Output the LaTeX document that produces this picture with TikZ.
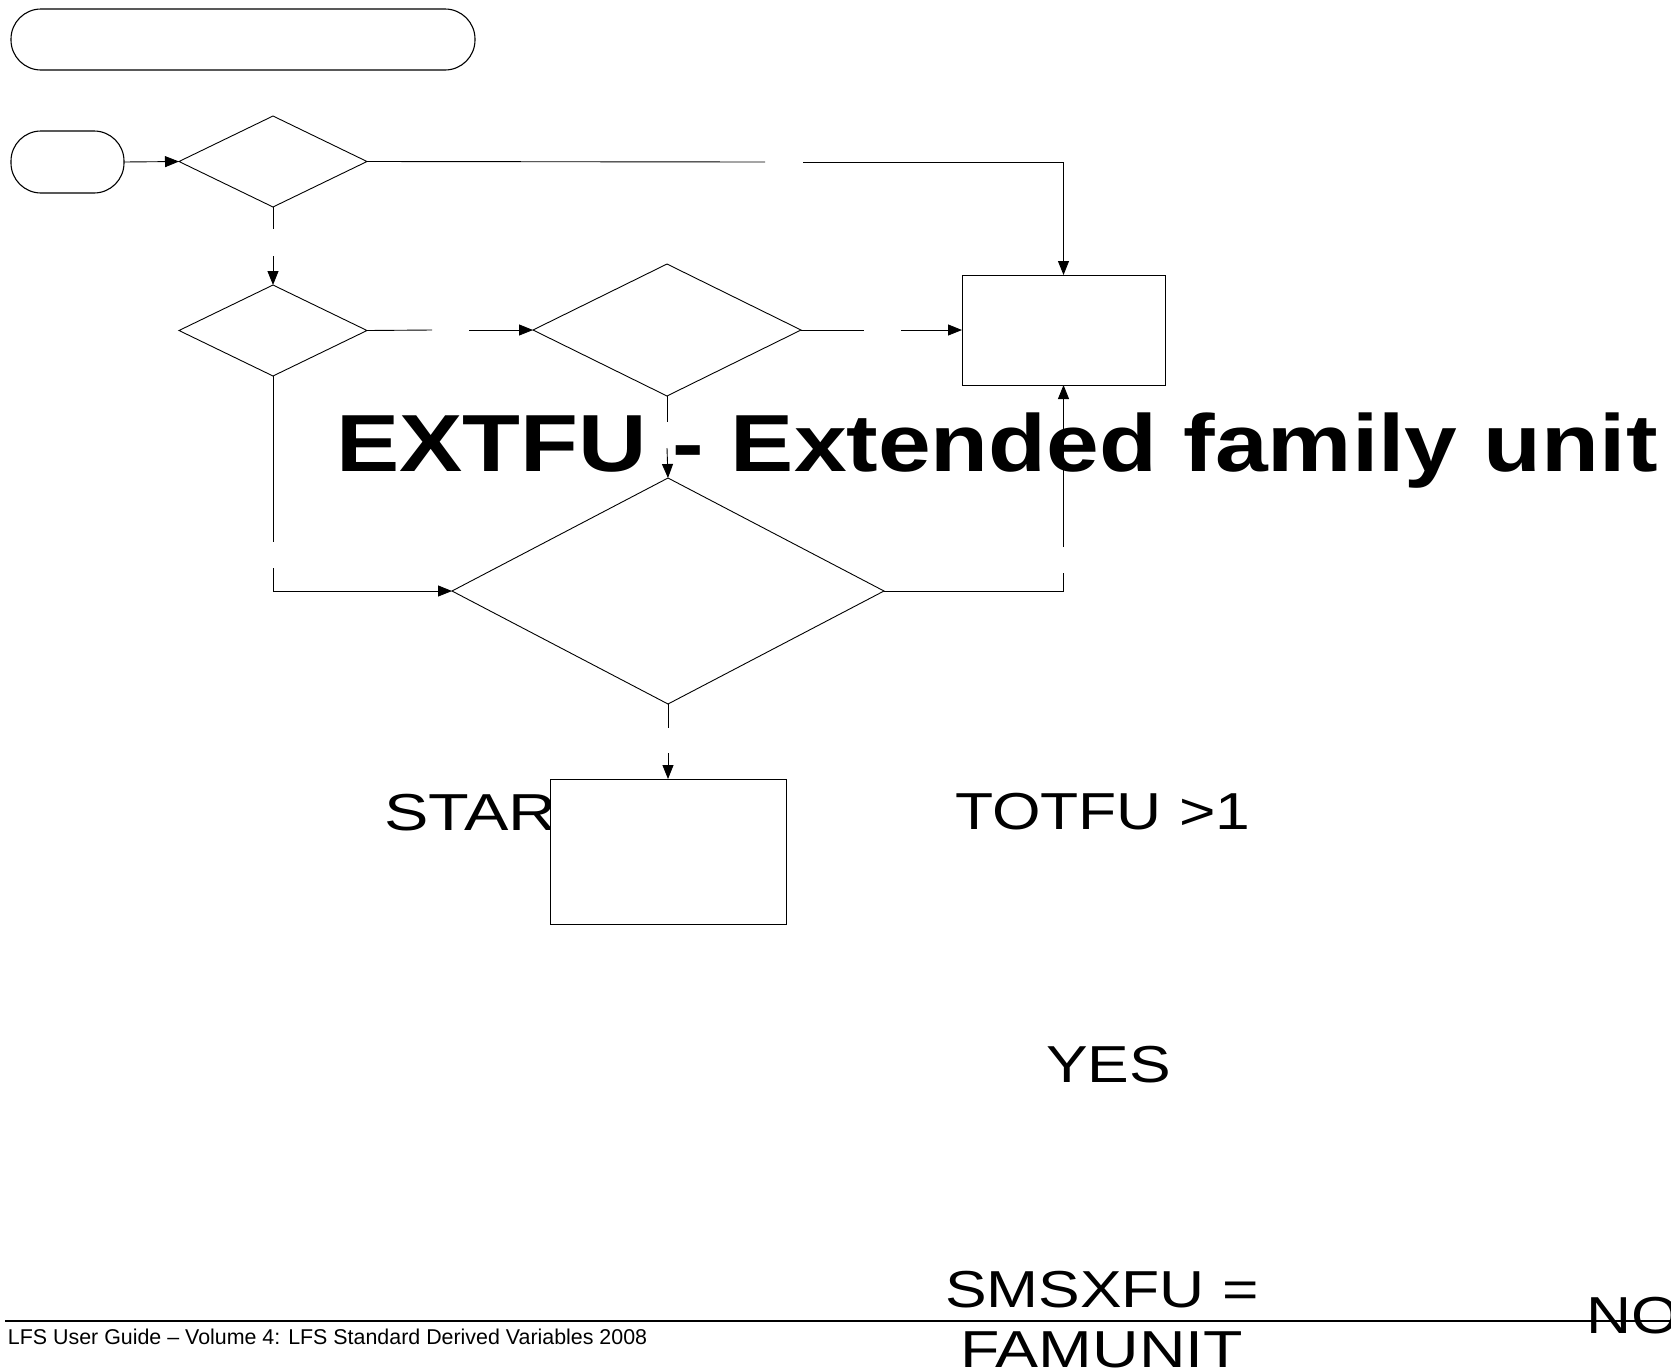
\documentclass[tikz,border=0pt]{standalone}
\usepackage{fontspec}
\setmainfont{Liberation Sans}
\usetikzlibrary{shapes.geometric,arrows.meta}
\newcommand{\xstretch}[2][1.17]{\scalebox{#1}[1]{#2}}
\begin{document}
\begin{tikzpicture}[x=1pt,y=-1pt,
  every node/.style={inner sep=0pt, outer sep=0pt},
  term/.style={draw, line width=1.1pt, rounded corners=30pt},
  dec/.style={diamond, draw, line width=0.9pt},
  proc/.style={rectangle, draw, line width=1pt, fill=white},
  conn/.style={line width=0.9pt},
  arr/.style={conn, -{Triangle[length=14pt,width=11pt]}},
  lbl/.style={anchor=base west, font=\fontsize{52}{52}\selectfont},
  foot/.style={anchor=base west, font=\fontsize{21.4}{21.4}\selectfont}
]
\useasboundingbox (0,0) rectangle (1671,1369);

% terminators
\node[term, minimum width=464pt, minimum height=61pt] (title) at (243,39.5) {};
\node[term, minimum width=113pt, minimum height=62pt] (start) at (67.5,162) {};

% decisions
\node[dec, minimum width=188pt, minimum height=91pt] (d1) at (273,161.5) {};
\node[dec, minimum width=188pt, minimum height=91pt] (d2) at (273,330.5) {};
\node[dec, minimum width=268pt, minimum height=132pt] (d4) at (667,330) {};
\node[dec, minimum width=432pt, minimum height=226pt] (d3) at (668,591) {};

% process box 1
\node[proc, minimum width=203pt, minimum height=110pt] (b1) at (1063.5,330) {};

% texts
\node[lbl] (txtstart) at (384,830) {\xstretch[1.28]{START}};
\node[lbl] (txttot) at (955,829) {\xstretch[1.2]{TOTFU >1}};
\node[lbl] (txtyes) at (1046,1082) {\xstretch[1.2]{YES}};
\node[lbl] (txtsms) at (945,1307) {\xstretch[1.2]{SMSXFU =}};
\node[lbl] (txtfam) at (960,1367) {\xstretch[1.24]{FAMUNIT}};
\node[lbl] (txtno) at (1586,1333) {\xstretch[1.2]{NO}};

% process box 2 (covers the end of START)
\node[proc, minimum width=236pt, minimum height=145pt] (b2) at (668,851.5) {};

% gap coordinates
\coordinate (g2a) at (765,162);  \coordinate (g2b) at (803,162);
\coordinate (g3a) at (273,229);  \coordinate (g3b) at (273,256);
\coordinate (g4a) at (432,330);  \coordinate (g4b) at (469,330);
\coordinate (g5a) at (864,330);  \coordinate (g5b) at (901,330);
\coordinate (g6a) at (273,542);  \coordinate (g6b) at (273,568);
\coordinate (g7a) at (667,422);  \coordinate (g7b) at (667,448);
\coordinate (g8a) at (1063.5,573); \coordinate (g8b) at (1063.5,547);
\coordinate (g9a) at (668,728);  \coordinate (g9b) at (668,753);

% connectors
\draw[arr] (start.east) -- (d1.west);
\draw[conn] (d1.east) -- (g2a);
\draw[arr] (g2b) -| (b1.north);
\draw[conn] (d1.south) -- (g3a);
\draw[arr] (g3b) -- (d2.north);
\draw[conn] (d2.east) -- (g4a);
\draw[arr] (g4b) -- (d4.west);
\draw[conn] (d4.east) -- (g5a);
\draw[arr] (g5b) -- (b1.west);
\draw[conn] (d2.south) -- (g6a);
\draw[arr] (g6b) |- (d3.west);
\draw[conn] (d4.south) -- (g7a);
\draw[arr] (g7b) -- (d3.north);
\draw[conn] (d3.east) -| (g8a);
\draw[arr] (g8b) -- (b1.south);
\draw[conn] (d3.south) -- (g9a);
\draw[arr] (g9b) -- (b2.north);

% heading
\node[anchor=base west, font=\fontsize{81}{81}\selectfont\bfseries] (heading) at (336,471) {\xstretch{EXTFU - Extended family unit}};

% footer
\coordinate (ruleL) at (5,1321);
\coordinate (ruleR) at (1671,1321);
\draw[line width=2.3pt] (ruleL) -- (ruleR);
\node[foot] (footer) at (8,1344) {LFS User Guide – Volume 4: LFS Standard Derived Variables 2008};
\end{tikzpicture}
\end{document}
